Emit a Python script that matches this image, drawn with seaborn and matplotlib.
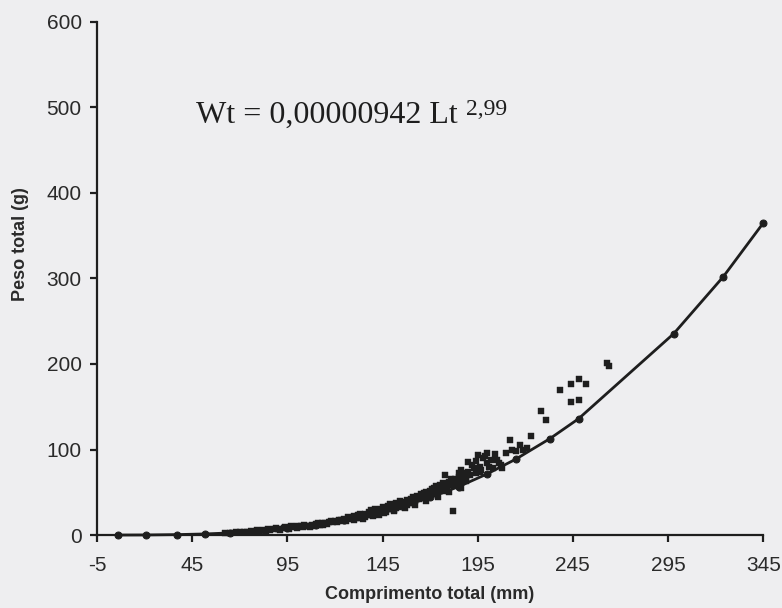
import matplotlib
import matplotlib.pyplot as plt
import pandas as pd
import seaborn as sns

matplotlib.use("Agg")

obs_length = [
    62, 65, 68, 70, 72, 74, 76, 78, 80, 82, 84, 86, 88, 90, 91, 93, 95, 96, 98, 100, 100,
    102, 103, 105, 106, 108, 109, 110, 112, 113, 115, 116, 118, 119, 120, 121, 123, 124,
    125, 126, 128, 129, 130, 130,
    132, 133, 134, 135, 136, 137, 138, 139, 140, 141, 142, 143, 144, 145, 146, 147, 148,
    149, 150, 150, 151, 152, 153, 154, 155, 156, 157, 158, 159, 160, 160,
    161, 162, 163, 164, 165, 166, 167, 168, 169, 170, 171, 172, 173, 174, 175, 176, 177,
    178, 178, 179, 180, 181, 182, 183, 184, 185, 186, 186, 187, 188, 189, 190, 190,
    191, 193, 194, 195, 196, 197, 198, 200, 200, 201, 202, 203, 205, 207, 208, 210, 212,
    213, 215, 217, 219, 221, 223, 228, 231, 238, 244, 244, 248, 248, 252, 263, 264,
    79, 85, 89, 94, 97, 104, 107, 111, 114, 117, 122, 127, 131, 133, 136, 139, 141, 143,
    145, 147, 149, 152, 154, 156, 158, 161, 163, 165, 167, 169, 171, 173, 175, 177, 179,
    181, 183, 185, 187, 189, 192, 194, 196, 199, 204, 206,
    135, 140, 146, 151, 157, 162, 168, 174, 180, 186,
]
obs_weight = [
    2, 2.5, 3, 3.5, 3, 4, 4.5, 4, 5, 5.5, 5, 6, 6.5, 7, 6, 8, 8, 7, 9, 10, 8,
    10, 9, 11, 10, 12, 11, 13, 12, 14, 14, 13, 16, 15, 17, 15, 18, 16,
    19, 17, 20, 19, 22, 18,
    23, 20, 24, 22, 25, 23, 27, 24, 28, 25, 29, 26, 31, 28, 32, 29, 34,
    30, 35, 31, 29, 37, 33, 36, 39, 34, 38, 41, 37, 42, 38,
    44, 40, 46, 42, 48, 44, 43, 50, 47, 52, 48, 55, 50, 53, 58, 54, 52,
    60, 70, 57, 62, 58, 28, 65, 61, 68, 76, 64, 62, 72, 67, 85, 74,
    70, 78, 72, 94, 80, 76, 90, 96, 84, 80, 88, 78, 88, 82, 78, 96, 111,
    100, 98, 105, 100, 102, 116, 145, 134, 170, 177, 156, 182, 158, 177, 201, 198,
    6, 7, 8, 9, 10, 12, 9, 14, 12, 15, 18, 21, 20, 25, 21, 29, 30, 24,
    33, 27, 36, 32, 40, 37, 35, 39, 43, 45, 49, 44, 54, 57, 52, 61, 55,
    66, 59, 72, 70, 63, 82, 86, 74, 92, 95, 84,
    19, 22, 26, 28, 32, 35, 40, 44, 50, 55,
]

# fitted curve Wt = 0,00000942 Lt^2,99 at the lengths marked on the line
curve_length = [6, 21, 37, 52, 65, 80, 95, 110, 125, 140, 155, 170, 185, 200, 215,
                233, 248, 298, 324, 345]
curve_weight = [0.0, 0.1, 0.5, 1.3, 2.5, 4.6, 7.7, 12.0, 17.5, 24.6, 33.4, 44.0, 56.6,
                71.5, 88.7, 112.8, 136.0, 235.5, 302.0, 364.8]

x_ticks = [-5, 45, 95, 145, 195, 245, 295, 345]
y_ticks = [0, 100, 200, 300, 400, 500, 600]

bg = "#eeeef0"
ink = "#1e1e1e"

sns.set_theme(style="ticks")
plt.rcParams["font.family"] = ["Liberation Sans", "DejaVu Sans"]

obs = pd.DataFrame({"length": obs_length, "weight": obs_weight})
curve = pd.DataFrame({"length": curve_length, "weight": curve_weight})

fig = plt.figure(figsize=(7.82, 6.08), dpi=100, facecolor=bg)
ax = fig.add_axes([0.124, 0.120, 0.852, 0.844])
ax.set_facecolor(bg)

sns.scatterplot(data=obs, x="length", y="weight", marker="s", s=24,
                color=ink, edgecolor=ink, linewidth=0.3, ax=ax, zorder=3, clip_on=False)
sns.lineplot(data=curve, x="length", y="weight", sort=False, estimator=None,
             color=ink, linewidth=2.0, marker="o", markersize=5,
             markeredgecolor=ink, ax=ax, zorder=4, clip_on=False)

ax.set_xlim(-5, 345)
ax.set_ylim(0, 600)
ax.set_xticks(x_ticks)
ax.set_yticks(y_ticks)
ax.set_xticklabels([str(v) for v in x_ticks])
ax.set_yticklabels([str(v) for v in y_ticks])

sns.despine(ax=ax)
for side in ("left", "bottom"):
    ax.spines[side].set_linewidth(1.6)
    ax.spines[side].set_color(ink)

ax.tick_params(axis="both", direction="out", length=5, width=1.6, color=ink,
               labelsize=15, labelcolor="#2a2a2a")
ax.tick_params(axis="x", pad=10)
ax.tick_params(axis="y", pad=6)

ax.set_xlabel("Comprimento total (mm)", fontsize=13, fontweight="bold", color="#2a2a2a")
ax.set_ylabel("Peso total (g)", fontsize=13, fontweight="bold", color="#2a2a2a")
ax.xaxis.set_label_coords(0.5, -0.10)
ax.yaxis.set_label_coords(-0.102, 0.567)

eq = ax.text(47, 482, "Wt = 0,00000942 Lt", family=["Liberation Serif", "DejaVu Serif"],
             fontsize=23, color=ink, va="baseline", ha="left")
ax.annotate("2,99", xy=(1, 1), xycoords=eq, xytext=(6, 1), textcoords="offset points",
            family=["Liberation Serif", "DejaVu Serif"], fontsize=17, color=ink,
            va="top", ha="left")

fig.savefig("out.png", dpi=100, facecolor=bg)
plt.close(fig)
